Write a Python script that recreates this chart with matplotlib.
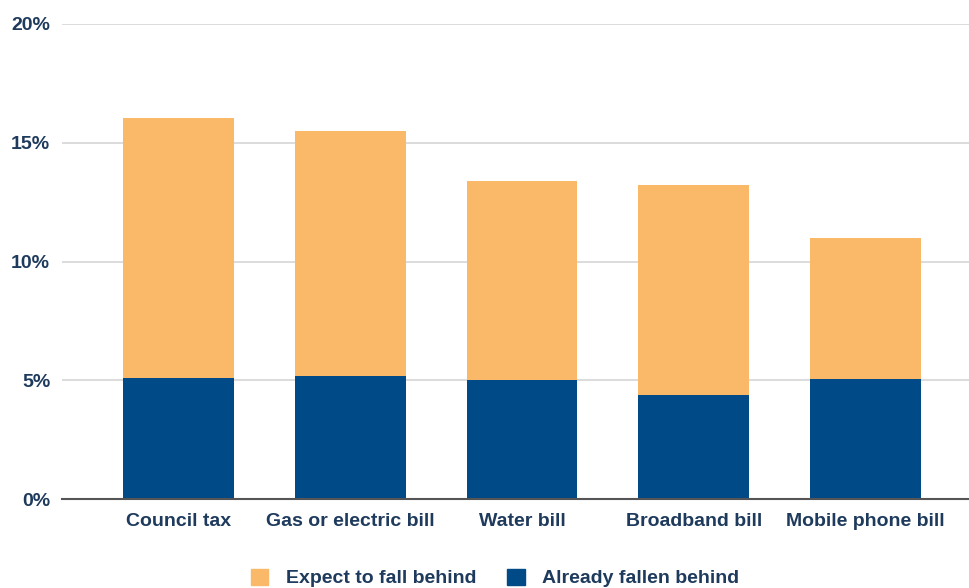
import matplotlib
matplotlib.use("Agg")
import matplotlib.pyplot as plt
from matplotlib.patches import Patch

categories = ["Council tax", "Gas or electric bill", "Water bill", "Broadband bill", "Mobile phone bill"]
already = [5.1, 5.2, 5.0, 4.4, 5.05]
expect = [10.95, 10.3, 8.4, 8.8, 5.95]
yticks = [0, 5, 10, 15, 20]
ytick_labels = ["0%", "5%", "10%", "15%", "20%"]

orange = "#F9B969"
blue = "#004A87"
text_color = "#1E3A5C"

plt.rcParams['font.family'] = ['Liberation Sans', 'DejaVu Sans']

fig = plt.figure(figsize=(9.7, 5.88), dpi=100)
ax = fig.add_axes([62/970, 89/588, 1 - 62/970, (499-24)/588])

x = list(range(len(categories)))
w = 0.646
ax.bar(x, already, width=w, color=blue, zorder=3)
ax.bar(x, expect, width=w, bottom=already, color=orange, zorder=3)

ax.set_ylim(0, 20)
ax.set_xlim(-0.678, 4.608)
ax.set_yticks(yticks)
ax.set_yticklabels(ytick_labels)
ax.set_xticks(x)
ax.set_xticklabels(categories)
ax.yaxis.grid(True, color="#D6D6D6", linewidth=1.2, zorder=0)
ax.set_axisbelow(True)
for s in ["top", "right", "left"]:
    ax.spines[s].set_visible(False)
ax.spines["bottom"].set_color("#555555")
ax.spines["bottom"].set_linewidth(1.5)
ax.spines["bottom"].set_zorder(4)
ax.tick_params(axis="both", length=0, colors=text_color, labelsize=14)
ax.tick_params(axis="y", pad=8.5)
ax.tick_params(axis="x", pad=10)
for lab in ax.get_xticklabels() + ax.get_yticklabels():
    lab.set_fontweight("bold")
    lab.set_color(text_color)

handles = [Patch(color=orange, label="Expect to fall behind"),
           Patch(color=blue, label="Already fallen behind")]
leg = fig.legend(handles=handles, loc="center", bbox_to_anchor=(495/970, 1 - 578/588),
                 ncol=2, frameon=False, handlelength=0.9, handleheight=0.9,
                 columnspacing=1.6, handletextpad=0.9,
                 prop={"weight": "bold", "size": 14})
for t in leg.get_texts():
    t.set_color(text_color)

fig.savefig("out.png", dpi=100, facecolor="white")
